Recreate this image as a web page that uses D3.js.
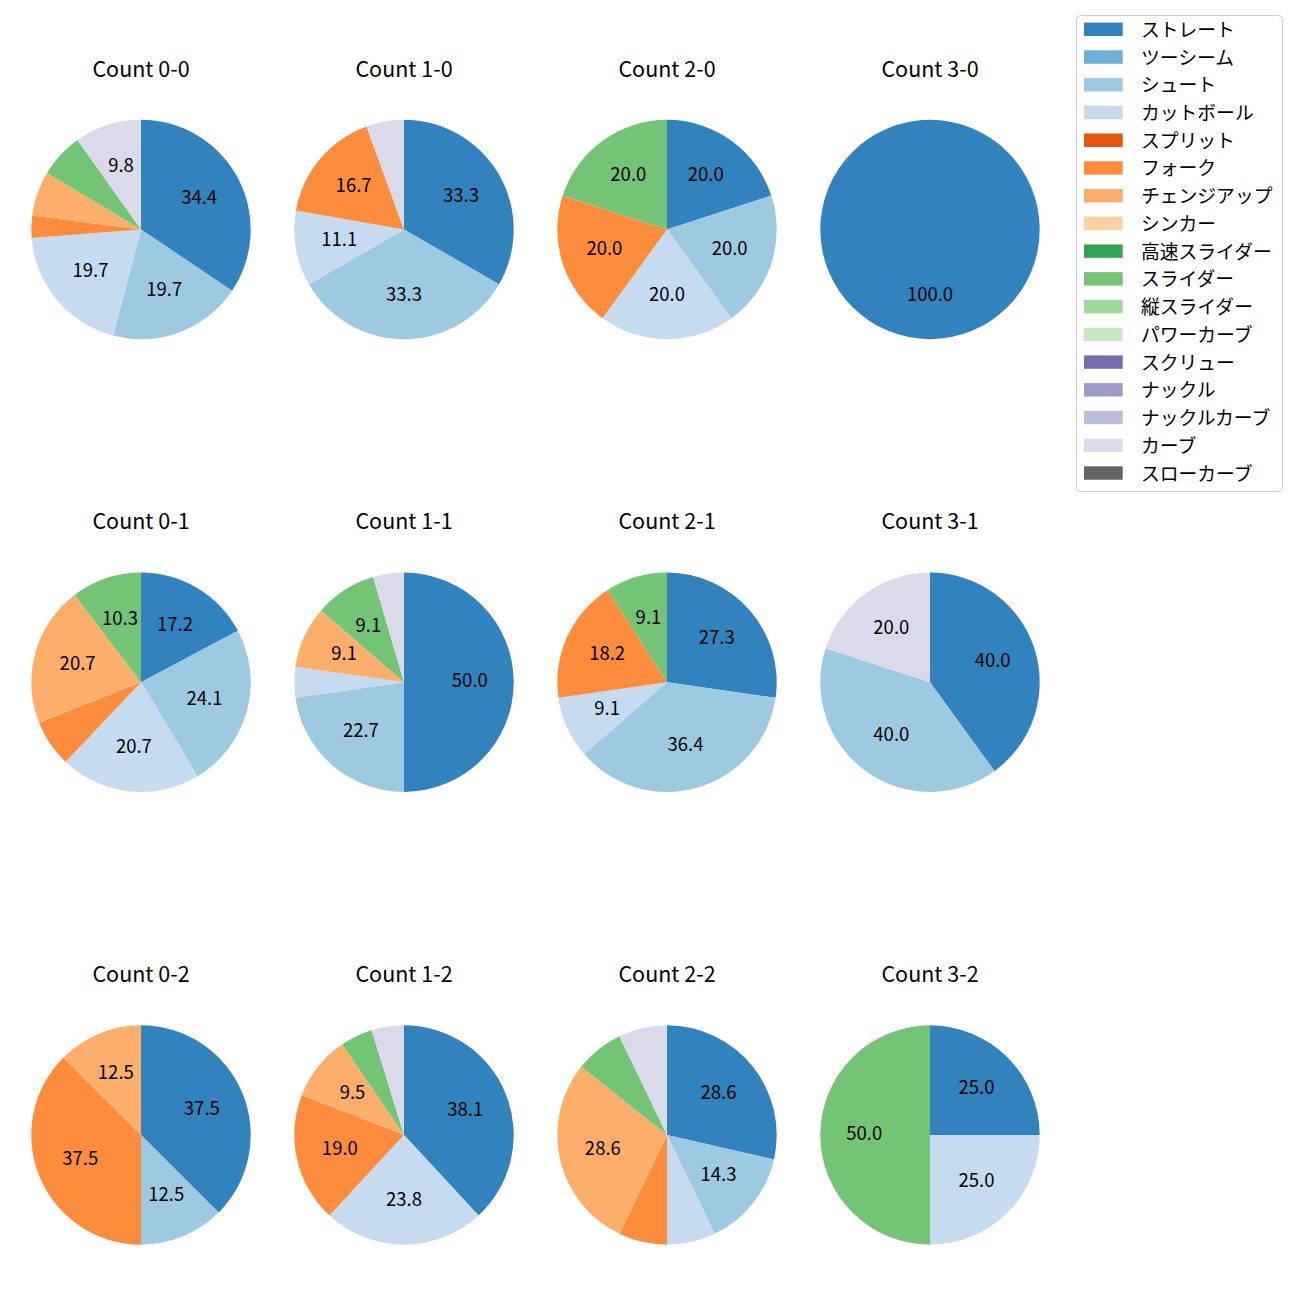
<!DOCTYPE html>
<html><head><meta charset="utf-8">
<script src="https://cdn.jsdelivr.net/npm/d3@7"></script>
<style>
body{margin:0;background:#fff;}
svg text{font-family:"Noto Sans CJK JP","Noto Sans",sans-serif;fill:#000;}
</style>
</head><body>
<svg id="chart" width="1300" height="1300"></svg>
<script>
// ---- data ----
const pitchTypes = ["ストレート","ツーシーム","シュート","カットボール","スプリット","フォーク","チェンジアップ","シンカー","高速スライダー","スライダー","縦スライダー","パワーカーブ","スクリュー","ナックル","ナックルカーブ","カーブ","スローカーブ"];
const palette = ["#3182bd","#6baed6","#9ecae1","#c6dbef","#e6550d","#fd8d3c","#fdae6b","#fdd0a2","#31a354","#74c476","#a1d99b","#c7e9c0","#756bb1","#9e9ac8","#bcbddc","#dadaeb","#636363"];
const countLabels = ["0-0","1-0","2-0","3-0","0-1","1-1","2-1","3-1","0-2","1-2","2-2","3-2"];
// pitch counts per type (same order as pitchTypes)
const count00 = [21,0,12,12,0,2,4,0,0,4,0,0,0,0,0,6,0];
const count10 = [6,0,6,2,0,3,0,0,0,0,0,0,0,0,0,1,0];
const count20 = [1,0,1,1,0,1,0,0,0,1,0,0,0,0,0,0,0];
const count30 = [1,0,0,0,0,0,0,0,0,0,0,0,0,0,0,0,0];
const count01 = [5,0,7,6,0,2,6,0,0,3,0,0,0,0,0,0,0];
const count11 = [11,0,5,1,0,0,2,0,0,2,0,0,0,0,0,1,0];
const count21 = [3,0,4,1,0,2,0,0,0,1,0,0,0,0,0,0,0];
const count31 = [2,0,2,0,0,0,0,0,0,0,0,0,0,0,0,1,0];
const count02 = [3,0,1,0,0,3,1,0,0,0,0,0,0,0,0,0,0];
const count12 = [8,0,0,5,0,4,2,0,0,1,0,0,0,0,0,1,0];
const count22 = [4,0,2,1,0,1,4,0,0,1,0,0,0,0,0,1,0];
const count32 = [1,0,0,1,0,0,0,0,0,2,0,0,0,0,0,0,0];
const countValues = [count00,count10,count20,count30,count01,count11,count21,count31,count02,count12,count22,count32];

// ---- layout ----
const svg = d3.select("#chart");
const xCol = d3.scaleLinear().domain([0,3]).range([141,930]);
const yRow = d3.scaleLinear().domain([0,2]).range([229.5,1135]);
const R = 109.7;
const color = d3.scaleOrdinal().domain(pitchTypes).range(palette);
const pie = d3.pie().sort(null).value(d => d.v).startAngle(0).endAngle(2*Math.PI);
const arc = d3.arc().innerRadius(0).outerRadius(R);
const labelArc = d3.arc().innerRadius(R*0.6).outerRadius(R*0.6);

countLabels.forEach((lab, i) => {
  const col = i % 4, row = Math.floor(i / 4);
  const cx = xCol(col), cy = yRow(row);
  const vals = countValues[i].map((v, k) => ({v, name: pitchTypes[k]})).filter(d => d.v > 0);
  const total = d3.sum(vals, d => d.v);
  const g = svg.append("g").attr("transform", `translate(${cx},${cy})`);
  const arcs = pie(vals);
  g.selectAll("path").data(arcs).join("path")
    .attr("d", arc)
    .attr("fill", d => color(d.data.name));
  g.selectAll("text.pct").data(arcs.filter(d => d.data.v / total * 100 > 8)).join("text")
    .attr("class","pct")
    .attr("transform", d => `translate(${labelArc.centroid(d)})`)
    .attr("text-anchor","middle")
    .attr("dy","0.28em")
    .attr("font-size","18.5px")
    .text(d => (d.data.v / total * 100).toFixed(1));
  svg.append("text")
    .attr("x", cx).attr("y", cy - 153)
    .attr("text-anchor","middle")
    .attr("font-size","21.5px")
    .text("Count " + lab);
});

// ---- legend ----
const lg = svg.append("g");
lg.append("rect").attr("x",1076.5).attr("y",15.5).attr("width",206).attr("height",476)
  .attr("rx",4).attr("fill","#fff").attr("fill-opacity",0.8).attr("stroke","#cccccc");
const yLeg = d3.scaleLinear().domain([0,16]).range([29.3,473]);
pitchTypes.forEach((p, k) => {
  lg.append("rect").attr("x",1084).attr("y",yLeg(k)-6.7).attr("width",38.7).attr("height",13.4)
    .attr("fill", color(p));
  lg.append("text").attr("x",1141).attr("y",yLeg(k)).attr("dy","0.4em")
    .attr("font-size","18.8px").text(p);
});
</script>
</body></html>
